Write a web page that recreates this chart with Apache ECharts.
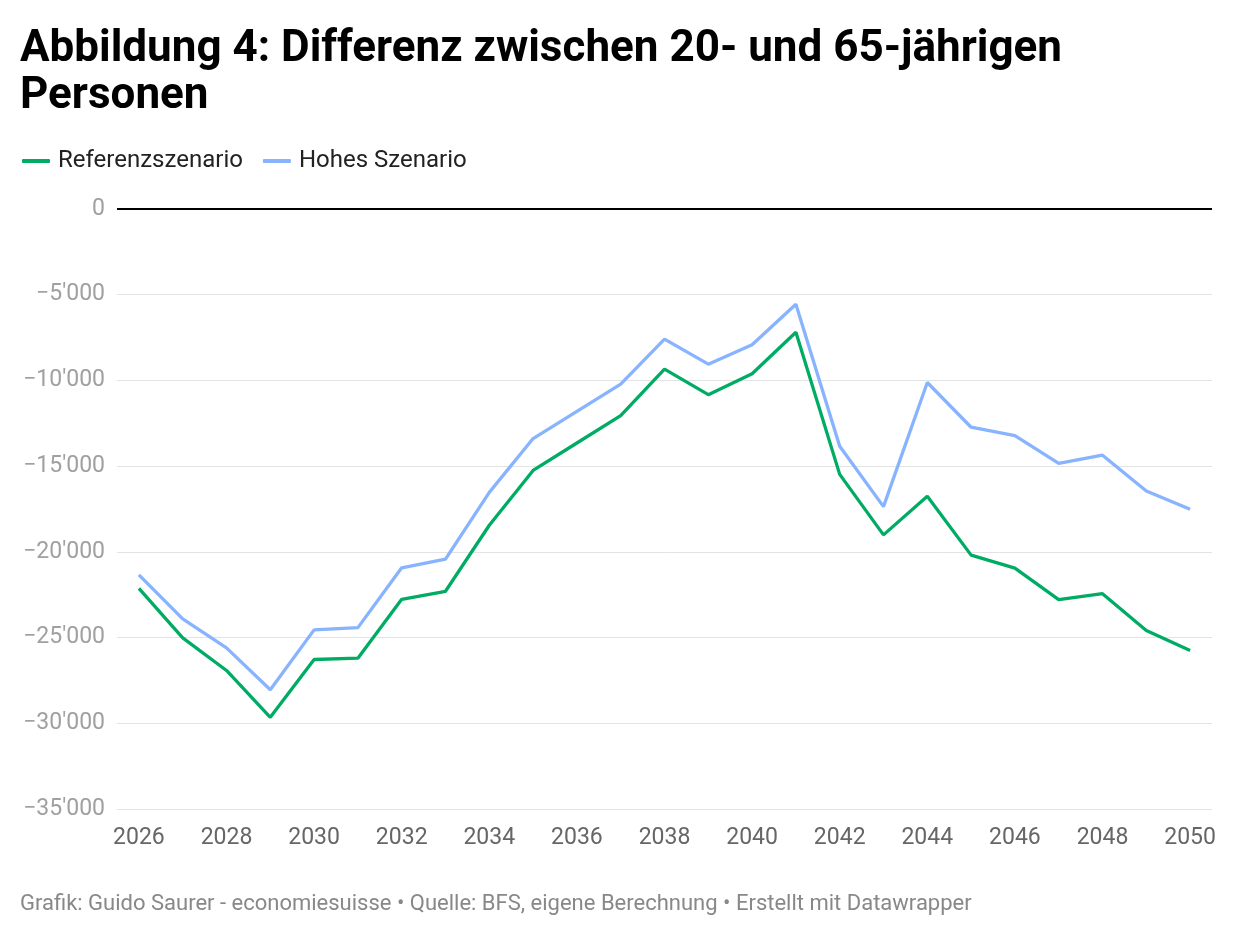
<!DOCTYPE html>
<html>
<head>
<meta charset="utf-8">
<script src="https://cdn.jsdelivr.net/npm/echarts@6/dist/echarts.min.js"></script>
<style>
html,body{margin:0;padding:0;background:#fff;}
#c{width:1240px;height:936px;}
</style>
</head>
<body>
<div id="c"></div>
<script>
const years = ['2026','2027','2028','2029','2030','2031','2032','2033','2034','2035','2036','2037','2038','2039','2040','2041','2042','2043','2044','2045','2046','2047','2048','2049','2050'];
const referenz = [-22130,-25020,-26920,-29650,-26280,-26200,-22770,-22300,-18450,-15250,-13650,-12050,-9340,-10830,-9610,-7190,-15480,-19010,-16760,-20190,-20950,-22790,-22440,-24590,-25760];
const hoch = [-21340,-23910,-25600,-28040,-24550,-24420,-20930,-20420,-16530,-13390,-11800,-10210,-7590,-9050,-7920,-5560,-13840,-17360,-10120,-12730,-13220,-14840,-14360,-16450,-17520];
const seriesNames = ['Referenzszenario','Hohes Szenario'];
const titleText = 'Abbildung 4: Differenz zwischen 20- und 65-jährigen\nPersonen';
const footerText = 'Grafik: Guido Saurer - economiesuisse • Quelle: BFS, eigene Berechnung • Erstellt mit Datawrapper';

function fmt(v){
  if (v === 0) return '0';
  const a = Math.abs(v).toString().replace(/\B(?=(\d{3})+(?!\d))/g, "'");
  return (v < 0 ? '\u2212' : '') + a;
}

const chart = echarts.init(document.getElementById('c'), null, {renderer:'canvas'});
chart.setOption({
  animation:false,
  backgroundColor:'#fff',
  textStyle:{fontFamily:'Roboto'},
  title:[{
    text:titleText,
    left:15, top:21,
    textStyle:{fontFamily:'Roboto', fontWeight:'bold', fontSize:44, lineHeight:47, color:'#000'}
  },{
    text:footerText,
    left:15, top:888,
    textStyle:{fontFamily:'Roboto', fontWeight:'normal', fontSize:22, color:'#888'}
  }],
  legend:{
    left:17, top:144,
    itemWidth:28, itemHeight:4, itemGap:20,
    icon:'roundRect',
    textStyle:{fontFamily:'Roboto', fontSize:24, color:'#222', padding:[0,0,0,3]},
    data:seriesNames
  },
  grid:{left:117, right:28, top:209, bottom:127},
  xAxis:{
    type:'category',
    data:years,
    boundaryGap:true,
    axisLine:{show:false},
    axisTick:{show:false},
    axisLabel:{interval:1, margin:18, fontFamily:'Roboto', fontSize:23, color:'#666'}
  },
  yAxis:{
    type:'value',
    min:-35000, max:0, interval:5000,
    axisLine:{show:false},
    axisTick:{show:false},
    splitLine:{lineStyle:{color:'#e3e3e3', width:1}},
    axisLabel:{margin:12, fontFamily:'Roboto', fontSize:23, color:'#a0a0a0', formatter:fmt}
  },
  series:[{
    name:seriesNames[0],
    type:'line',
    data:referenz,
    showSymbol:false,
    color:'#00ac64',
    lineStyle:{width:3.3, color:'#00ac64'},
    z:3,
    markLine:{
      silent:true, symbol:'none', label:{show:false},
      lineStyle:{color:'#000', width:2, type:'solid'},
      data:[{yAxis:0}]
    }
  },{
    name:seriesNames[1],
    type:'line',
    data:hoch,
    showSymbol:false,
    color:'#88b3ff',
    lineStyle:{width:3.3, color:'#88b3ff'},
    z:2
  }]
});
</script>
</body>
</html>
